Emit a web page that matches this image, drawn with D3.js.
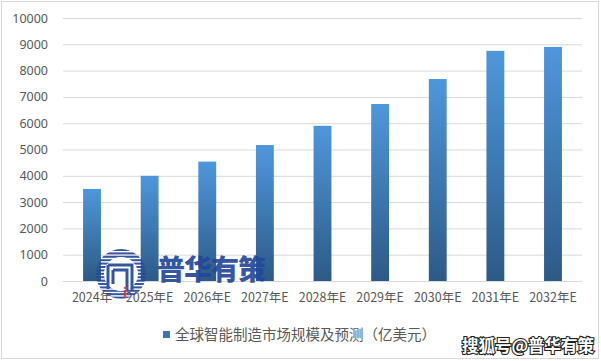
<!DOCTYPE html>
<html><head><meta charset="utf-8">
<script src="https://cdn.jsdelivr.net/npm/d3@7"></script>
<style>body{margin:0;background:#fff}svg{display:block}text{font-family:"Noto Sans CJK SC","Noto Sans",sans-serif}</style>
</head><body><div id="c"></div>
<script>
const categories = ["2024年","2025年E","2026年E","2027年E","2028年E","2029年E","2030年E","2031年E","2032年E"];
const values = [3500,4000,4540,5170,5900,6730,7680,8750,8900];
const yTicks = [0,1000,2000,3000,4000,5000,6000,7000,8000,9000,10000];
const legendLabel = "全球智能制造市场规模及预测（亿美元）";
const watermark = "普华有策";
const sourceTag = "搜狐号@普华有策";

const W=601,H=361;
const svg=d3.select("#c").append("svg").attr("width",W).attr("height",H);
svg.append("rect").attr("x",1.5).attr("y",1.5).attr("width",597).attr("height",357).attr("fill","#fff").attr("stroke","#d9d9d9");

const defs=svg.append("defs");
const g1=defs.append("linearGradient").attr("id","bg").attr("x1",0).attr("y1",0).attr("x2",0).attr("y2",1);
g1.append("stop").attr("offset","0%").attr("stop-color","#4e97dc");
g1.append("stop").attr("offset","100%").attr("stop-color","#2c5a86");

const x=d3.scaleBand().domain(categories).range([63.2,581.8]).paddingInner(0.69).paddingOuter(0.345);
const y=d3.scaleLinear().domain([0,10000]).range([281,18]);

// grid
svg.append("g").selectAll("line").data(yTicks).join("line")
 .attr("x1",63).attr("x2",582).attr("y1",d=>y(d)+0.5).attr("y2",d=>y(d)+0.5)
 .attr("stroke","#d9d9d9").attr("stroke-width",1);

// y axis labels
const ya=svg.append("g").attr("transform","translate(48,0)")
 .call(d3.axisLeft(y).tickValues(yTicks).tickSize(0).tickPadding(0).tickFormat(d3.format("d")));
ya.select(".domain").remove();
ya.selectAll("text").attr("fill","#595959").style("font-size","12.5px").style("font-family","'Noto Sans','DejaVu Sans',sans-serif");

// bars
svg.append("g").selectAll("rect").data(values).join("rect")
 .attr("x",(d,i)=>x(categories[i])).attr("width",x.bandwidth())
 .attr("y",d=>y(d)).attr("height",d=>y(0)-y(d)).attr("fill","url(#bg)");

// x axis labels
const xa=svg.append("g").attr("transform","translate(0,283)")
 .call(d3.axisBottom(x).tickSize(0).tickPadding(10));
xa.select(".domain").remove();
xa.selectAll("text").attr("fill","#595959").style("font-size","12.5px");

// watermark logo
const wm=svg.append("g").attr("opacity",0.92);
const cp=defs.append("clipPath").attr("id","cc");
cp.append("circle").attr("cx",121).attr("cy",274).attr("r",25);
const stripes=d3.range(249,300,3.4);
wm.append("g").attr("clip-path","url(#cc)").selectAll("rect").data(stripes).join("rect")
 .attr("x",94).attr("y",d=>d).attr("width",54).attr("height",2).attr("fill","#24489a");
wm.append("circle").attr("cx",121).attr("cy",274).attr("r",17).attr("fill","#fff");
wm.append("path").attr("d","M108,265 L132,265 L132,291 M113,270 L127,270 L127,291 M108,265 L108,289 M113,270 L113,284")
 .attr("fill","none").attr("stroke","#24489a").attr("stroke-width",3);
wm.append("text").attr("x",123).attr("y",298).attr("fill","#d0312d").style("font-size","14px").style("font-weight","bold").text("i");
wm.append("text").attr("x",157).attr("y",280).attr("fill","#24489a").style("font-size","28px").style("font-weight","900").attr("letter-spacing","-1px").text(watermark);

// legend
svg.append("rect").attr("x",163).attr("y",331).attr("width",7).attr("height",7).attr("fill","#3d78b2");
svg.append("text").attr("x",175).attr("y",340).attr("fill","#595959").style("font-size","14.5px").text(legendLabel);

// source tag
svg.append("text").attr("x",462).attr("y",352).attr("fill","#fff").attr("stroke","#222").attr("stroke-width",2.2).attr("paint-order","stroke")
 .style("font-size","16.5px").style("font-weight","bold").text(sourceTag);
</script></body></html>
